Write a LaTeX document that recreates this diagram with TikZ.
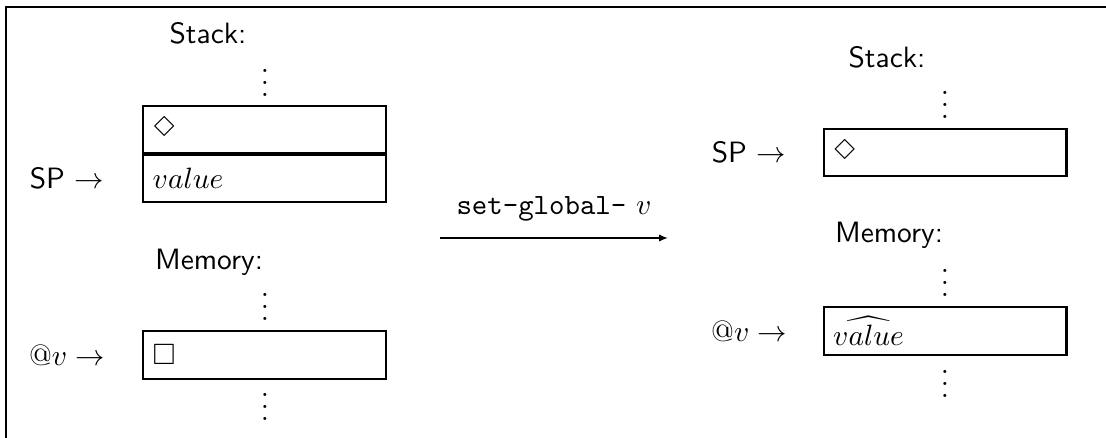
\documentclass[tikz,border=0pt]{standalone}
\usepackage{amsmath, latexsym}
\usepackage{tikz}
\usetikzlibrary{positioning, arrows.meta}
% only the white square of the AMS symbols
\DeclareSymbolFont{AMSa}{U}{msa}{m}{n}
\DeclareMathSymbol{\square}{\mathord}{AMSa}{"03}

\tikzset{
  cell/.style={draw, line width=0.7pt, minimum width=82.6pt, minimum height=16pt,
    text width=76pt, align=left, inner sep=3pt},
  caption/.style={font=\sffamily},
  dots/.style={inner sep=0pt},
}

\begin{document}
\begin{tikzpicture}[x=0.34pt, y=-0.34pt]
    \useasboundingbox (0,0) rectangle (1106,438);
    % Frame
    \draw[line width=0.8pt] (6,438) -- (6,7) -- (1106,7);

    % Left: stack before
    \node[caption] (stackL) at (208,33) {Stack:};
    \node[dots] (dotsLa) at (265,74) {$\vdots$};
    \node[cell] (topL) at (264.5,129.5) {$\Diamond$};
    \node[cell, below=0pt of topL] (valL) {$value$};
    \node (spL) at (67,178) {\textsf{SP} $\rightarrow$};

    % Left: memory before
    \node[caption] (memL) at (209,262) {Memory:};
    \node[dots] (dotsLb) at (265,298) {$\vdots$};
    \node[cell] (globL) at (264.5,355) {$\square$};
    \node (atL) at (67,355) {$@v \rightarrow$};
    \node[dots] (dotsLc) at (265,398) {$\vdots$};

    % The instruction
    \coordinate (instS) at (440,238);
    \coordinate (instE) at (668,238);
    \draw[line width=0.6pt, -{Latex[length=3pt, width=2.5pt]}] (instS) -- node[above=2pt] {\texttt{set-global-} $v$} (instE);

    % Right: stack after
    \node[caption] (stackR) at (887,57) {Stack:};
    \node[dots] (dotsRa) at (945,96) {$\vdots$};
    \node[cell] (topR) at (945,152.5) {$\Diamond$};
    \node (spR) at (749,152) {\textsf{SP} $\rightarrow$};

    % Right: memory after
    \node[caption] (memR) at (889,235) {Memory:};
    \node[dots] (dotsRb) at (945,274) {$\vdots$};
    \node[cell] (globR) at (945,331) {$\widehat{value}$};
    \node (atR) at (749,331) {$@v \rightarrow$};
    \node[dots] (dotsRc) at (945,375) {$\vdots$};
\end{tikzpicture}
\end{document}
